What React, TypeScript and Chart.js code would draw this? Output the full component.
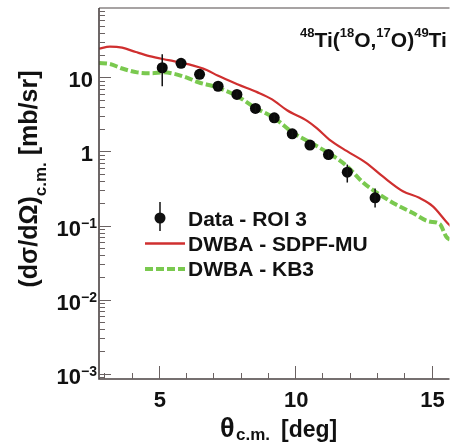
import { useEffect, useRef } from "react";
import { Chart, registerables } from "chart.js";

Chart.register(...registerables);

const FONT = '"Liberation Sans", Arial, Helvetica, sans-serif';

// ---- Experimental data (theta_cm [deg], dsigma/dOmega [mb/sr]) ----
const dataTheta = [5.12, 5.81, 6.49, 7.17, 7.86, 8.54, 9.23, 9.89, 10.54, 11.22, 11.91, 12.93];
const dataXsec = [13.5, 15.5, 11.0, 7.6, 5.9, 3.81, 2.85, 1.73, 1.22, 0.91, 0.525, 0.237];
const dataErrLow = [7.6, 14.0, 10.0, 6.9, 5.3, 3.35, 2.5, 1.55, 1.08, 0.8, 0.381, 0.175];
const dataErrHigh = [20.5, 17.0, 12.0, 8.3, 6.5, 4.3, 3.2, 1.92, 1.36, 1.02, 0.667, 0.316];

// ---- DWBA - SDPF-MU ----
const sdpfTheta = [2.8, 3.2, 3.65, 4.15, 4.65, 5.35, 6.1, 6.75, 7.15, 7.9, 8.6, 9.15, 9.7, 10.45, 10.8, 11.25, 11.9, 12.6, 13.2, 13.95, 14.55, 15.05, 15.55, 15.7];
const sdpfXsec = [24.4, 26.0, 25.2, 22.0, 19.4, 17.1, 15.0, 12.6, 10.6, 8.04, 6.33, 5.05, 3.6, 2.57, 2.05, 1.45, 1.01, 0.703, 0.464, 0.291, 0.237, 0.182, 0.112, 0.098];

// ---- DWBA - KB3 ----
const kb3Theta = [2.8, 3.2, 3.65, 4.2, 4.75, 5.15, 5.55, 6.0, 6.45, 7.15, 7.9, 8.5, 9.25, 9.9, 10.55, 11.25, 11.9, 12.5, 13.1, 13.7, 14.3, 14.9, 15.3, 15.55, 15.7];
const kb3Xsec = [15.6, 15.2, 13.2, 11.7, 11.4, 11.7, 11.2, 10.0, 8.6, 7.3, 5.5, 3.95, 2.8, 1.81, 1.32, 0.94, 0.633, 0.378, 0.262, 0.192, 0.149, 0.114, 0.105, 0.07, 0.064];

// ---- Axes ----
const xMin = 2.8;
const xMax = 15.66;
const yMin = 8.49e-4;
const yMax = 86.5;
const xMinorTicks = [3, 4, 6, 7, 8, 9, 11, 12, 13, 14];
const xMajorTicks = [5, 10, 15];
const xTickLabels = ["5", "10", "15"];
const yDecades = [1e-3, 1e-2, 1e-1, 1, 10];
const yTickBase = ["10", "10", "10", "1", "10"];
const yTickExp = ["\u22123", "\u22122", "\u22121", "", ""];

const legendLabels = ["Data - ROI 3", "DWBA - SDPF-MU", "DWBA - KB3"];

const RED = "#cf2f2f";
const GREEN = "#7ac94f";

function f(size: number) {
  return `bold ${size}px ${FONT}`;
}

const rootStyle = {
  id: "rootStyle",
  afterDatasetsDraw(chart: any) {
    const ctx = chart.ctx;
    const xs = chart.scales.x;
    const ys = chart.scales.y;
    ctx.save();
    ctx.strokeStyle = "#111";
    ctx.lineWidth = 1.5;
    for (let i = 0; i < dataTheta.length; i++) {
      const px = xs.getPixelForValue(dataTheta[i]);
      ctx.beginPath();
      ctx.moveTo(px, ys.getPixelForValue(dataErrLow[i]));
      ctx.lineTo(px, ys.getPixelForValue(dataErrHigh[i]));
      ctx.stroke();
    }
    ctx.restore();
  },
  afterDraw(chart: any) {
    const ctx = chart.ctx;
    const xs = chart.scales.x;
    const ys = chart.scales.y;
    const a = chart.chartArea;
    ctx.save();

    // frame
    ctx.strokeStyle = "#8a8585";
    ctx.lineWidth = 1.5;
    ctx.beginPath();
    ctx.moveTo(a.left, a.top);
    ctx.lineTo(a.right, a.top);
    ctx.stroke();
    ctx.strokeStyle = "#4a4242";
    ctx.lineWidth = 1.6;
    ctx.beginPath();
    ctx.moveTo(a.left, a.top);
    ctx.lineTo(a.left, a.bottom);
    ctx.lineTo(a.right, a.bottom);
    ctx.stroke();

    // y ticks
    ctx.lineWidth = 1;
    ctx.strokeStyle = "#6a6262";
    for (let d = -4; d <= 2; d++) {
      for (let m = 1; m <= 9; m++) {
        const v = m * Math.pow(10, d);
        if (v < yMin || v > yMax) continue;
        const py = Math.round(ys.getPixelForValue(v)) + 0.5;
        const len = m === 1 ? 12 : 6;
        ctx.beginPath();
        ctx.moveTo(a.left, py);
        ctx.lineTo(a.left + len, py);
        ctx.stroke();
      }
    }
    // x ticks
    for (const v of xMinorTicks) {
      const px = Math.round(xs.getPixelForValue(v)) + 0.5;
      ctx.beginPath();
      ctx.moveTo(px, a.bottom);
      ctx.lineTo(px, a.bottom - 6);
      ctx.stroke();
    }
    for (const v of xMajorTicks) {
      const px = Math.round(xs.getPixelForValue(v)) + 0.5;
      ctx.beginPath();
      ctx.moveTo(px, a.bottom);
      ctx.lineTo(px, a.bottom - 13);
      ctx.stroke();
    }

    ctx.fillStyle = "#111";
    ctx.textBaseline = "alphabetic";

    // y tick labels
    for (let i = 0; i < yDecades.length; i++) {
      const py = ys.getPixelForValue(yDecades[i]);
      ctx.font = f(22);
      const wb = ctx.measureText(yTickBase[i]).width;
      if (yTickExp[i]) {
        ctx.font = f(14);
        const we = ctx.measureText(yTickExp[i]).width;
        const right = a.left - 2;
        ctx.textAlign = "left";
        ctx.fillText(yTickExp[i], right - we, py + 2);
        ctx.font = f(22);
        ctx.fillText(yTickBase[i], right - we - wb, py + 10);
      } else {
        ctx.font = f(22);
        ctx.textAlign = "right";
        ctx.fillText(yTickBase[i], a.left - 6, py + 10);
      }
    }

    // x tick labels
    ctx.font = f(22);
    ctx.textAlign = "center";
    for (let i = 0; i < xMajorTicks.length; i++) {
      const px = xs.getPixelForValue(xMajorTicks[i]);
      ctx.fillText(xTickLabels[i], px + 1, a.bottom + 28);
    }

    // x title
    ctx.textAlign = "left";
    ctx.font = f(27);
    ctx.fillText("\u03b8", 220, 437);
    ctx.font = f(17);
    ctx.fillText("c.m.", 236, 440);
    ctx.font = f(23);
    ctx.fillText("[deg]", 281, 437);

    // y title (rotated)
    {
      const parts = [
        { t: "(d\u03c3/d\u03a9)", s: 25, dy: 0 },
        { t: "c.m.", s: 17, dy: 9 },
        { t: " [mb/sr]", s: 25, dy: 0 },
      ];
      let total = 0;
      const ws: number[] = [];
      for (const p of parts) {
        ctx.font = f(p.s);
        const w = ctx.measureText(p.t).width;
        ws.push(w);
        total += w;
      }
      ctx.save();
      ctx.translate(37, 179);
      ctx.rotate(-Math.PI / 2);
      let x = -total / 2;
      for (let i = 0; i < parts.length; i++) {
        ctx.font = f(parts[i].s);
        ctx.fillText(parts[i].t, x, parts[i].dy);
        x += ws[i];
      }
      ctx.restore();
    }

    // reaction annotation
    {
      const parts = [
        { t: "48", sup: true },
        { t: "Ti(", sup: false },
        { t: "18", sup: true },
        { t: "O,", sup: false },
        { t: "17", sup: true },
        { t: "O)", sup: false },
        { t: "49", sup: true },
        { t: "Ti", sup: false },
      ];
      let x = 300;
      for (const p of parts) {
        ctx.font = f(p.sup ? 13 : 21);
        ctx.fillText(p.t, x, p.sup ? 37 : 47);
        x += ctx.measureText(p.t).width;
      }
    }

    // legend
    ctx.font = f(21);
    ctx.textAlign = "left";
    const lx = 188;
    const rows = [226, 251, 276];
    for (let i = 0; i < legendLabels.length; i++) {
      ctx.fillText(legendLabels[i], lx, rows[i]);
    }
    // data symbol
    ctx.strokeStyle = "#111";
    ctx.lineWidth = 1.5;
    ctx.beginPath();
    ctx.moveTo(160, 202);
    ctx.lineTo(160, 231);
    ctx.stroke();
    ctx.beginPath();
    ctx.arc(160, 218, 5.5, 0, Math.PI * 2);
    ctx.fill();
    // red line
    ctx.strokeStyle = RED;
    ctx.lineWidth = 2.4;
    ctx.beginPath();
    ctx.moveTo(145, 243.5);
    ctx.lineTo(185, 243.5);
    ctx.stroke();
    // green dashed
    ctx.strokeStyle = GREEN;
    ctx.lineWidth = 4;
    ctx.setLineDash([8, 3]);
    ctx.beginPath();
    ctx.moveTo(145, 269);
    ctx.lineTo(185, 269);
    ctx.stroke();
    ctx.setLineDash([]);

    ctx.restore();
  },
};

export default function App() {
  const ref = useRef<HTMLCanvasElement | null>(null);
  useEffect(() => {
    if (!ref.current) return;
    const chart = new Chart(ref.current, {
      type: "line",
      data: {
        datasets: [
          {
            type: "scatter",
            label: legendLabels[0],
            data: dataTheta.map((x, i) => ({ x, y: dataXsec[i] })),
            backgroundColor: "#0a0a0a",
            borderWidth: 0,
            pointRadius: 5.5,
          },
          {
            type: "line",
            label: legendLabels[1],
            data: sdpfTheta.map((x, i) => ({ x, y: sdpfXsec[i] })),
            borderColor: RED,
            borderWidth: 2.2,
            pointRadius: 0,
            cubicInterpolationMode: "monotone",
            fill: false,
          },
          {
            type: "line",
            label: legendLabels[2],
            data: kb3Theta.map((x, i) => ({ x, y: kb3Xsec[i] })),
            borderColor: GREEN,
            borderWidth: 4,
            borderDash: [8, 3],
            pointRadius: 0,
            cubicInterpolationMode: "monotone",
            fill: false,
          },
        ],
      } as any,
      options: {
        animation: false,
        responsive: false,
        maintainAspectRatio: false,
        layout: { padding: { left: 99, top: 8, right: 0, bottom: 68 } },
        scales: {
          x: { type: "linear", display: false, min: xMin, max: xMax },
          y: { type: "logarithmic", display: false, min: yMin, max: yMax },
        },
        plugins: {
          legend: { display: false },
          tooltip: { enabled: false },
        },
      } as any,
      plugins: [rootStyle],
    });
    return () => chart.destroy();
  }, []);
  return (
    <div style={{ position: "fixed", left: 0, top: 0, width: 455, height: 447, background: "#fff" }}>
      <canvas ref={ref} width={455} height={447} style={{ display: "block" }} />
    </div>
  );
}
